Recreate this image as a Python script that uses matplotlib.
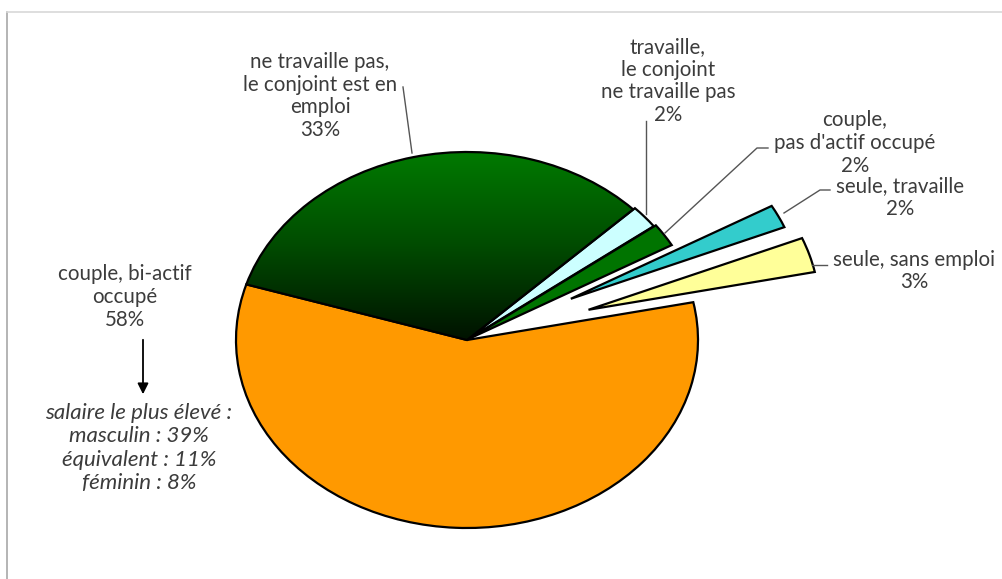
import numpy as np
import matplotlib
matplotlib.use("Agg")
import matplotlib.pyplot as plt
from matplotlib.colors import LinearSegmentedColormap
from matplotlib.lines import Line2D

# data
labels = [
    "couple, bi-actif\noccupé",
    "ne travaille pas,\nle conjoint est en\nemploi",
    "travaille,\nle conjoint\nne travaille pas",
    "couple,\npas d'actif occupé",
    "seule, travaille",
    "seule, sans emploi",
]
shares = [58, 33, 2, 2, 2, 3]
colors = ["#FF9900", "#007A00", "#CCFFFF", "#007400", "#33CCCC", "#FFFF99"]
explode = [0, 0, 0.01, 0.02, 0.5, 0.55]
salary_lines = ["salaire le plus élevé :", "masculin : 39%",
                "équivalent : 11%", "féminin : 8%"]

W, H = 1003, 579
CX, CY, RX, RY = 467, 340, 231, 188  # pie centre and radii in pixels


def px(x, y):
    """pixel position -> data coords of the pie axes"""
    return (x - CX) / RX, (CY - y) / RY


plt.rcParams["font.family"] = ["Lato", "DejaVu Sans"]
txt_col = "#3c3c3c"
fs = 14.8

fig = plt.figure(figsize=(W / 100, H / 100), dpi=100)
fig.patch.set_facecolor("white")
ax = fig.add_axes([0, 0, 1, 1])

wedges, _ = ax.pie(shares, colors=colors, explode=explode, startangle=11.6,
                   counterclock=False,
                   wedgeprops=dict(edgecolor="black", linewidth=1.6))
ax.set_aspect("auto")
x0, y1 = px(0, 0)
x1, y0 = px(W, H)

# dark-to-green gradient on the large green slice
cmap = LinearSegmentedColormap.from_list("g", ["#001200", "#004c00", "#007c00"])
grad = np.linspace(0, 1, 256).reshape(-1, 1)
im = ax.imshow(grad, extent=[-1.05, 0.8, 0.0, 1.02], origin="lower",
               cmap=cmap, aspect="auto", zorder=wedges[1].get_zorder() + 0.1)
im.set_clip_path(wedges[1])
wedges[1].set_zorder(im.get_zorder() + 0.1)
wedges[1].set_facecolor("none")
ax.set_xlim(x0, x1)
ax.set_ylim(y0, y1)
ax.axis("off")


# labels
def label(x, y, s, size=fs, ls=1.18, **kw):
    ax.text(*px(x, y), s, ha="center", va="center", multialignment="center",
            fontsize=size, color=txt_col, linespacing=ls, **kw)


label(320, 96, labels[1] + f"\n{shares[1]}%")
label(668, 81, labels[2] + f"\n{shares[2]}%")
label(855, 143, labels[3] + f"\n{shares[3]}%")
label(900, 198, labels[4] + f"\n{shares[4]}%")
label(914, 271, labels[5] + f"\n{shares[5]}%")
label(125, 297, labels[0] + f"\n{shares[0]}%")
label(139, 448, "\n".join(salary_lines), size=16, ls=1.2, style="italic")

# leader lines
lc = "#555555"
leaders = [
    [(403, 87), (412, 153)],
    [(646, 121), (646, 214)],
    [(768, 148), (757, 148), (665, 233)],
    [(830, 190), (820, 190), (784, 213)],
    [(827, 265), (812, 265)],
]
for pts in leaders:
    xs, ys = zip(*[px(*p) for p in pts])
    ax.plot(xs, ys, color=lc, lw=1.0)

ax.annotate("", xy=px(143, 397), xytext=px(143, 337),
            arrowprops=dict(arrowstyle="-|>", color="black", lw=1.3,
                            mutation_scale=16))

# chart area border
fig.add_artist(Line2D([7 / W, 7 / W], [0, 1 - 12 / H], color="#a8a8a8", lw=1.2))
fig.add_artist(Line2D([7 / W, 1], [1 - 12 / H, 1 - 12 / H], color="#d8d8d8", lw=1.2))

fig.savefig("out.png", dpi=100, facecolor="white")
